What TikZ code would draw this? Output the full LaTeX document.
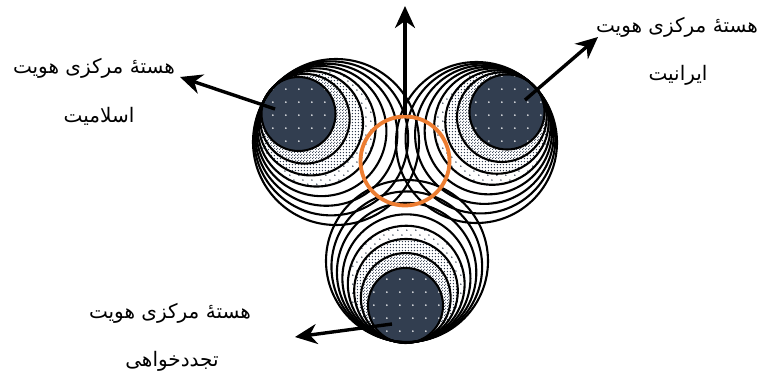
\documentclass[tikz,border=0pt]{standalone}
\usepackage{fontspec}
\usetikzlibrary{arrows.meta,calc,patterns}
\newfontfamily\fa[Script=Arabic]{DejaVu Sans}
\TeXXeTstate=1
\definecolor{navy}{HTML}{323E50}
\definecolor{orng}{HTML}{ED7D31}
\pgfdeclarepatternformonly{coredots}{\pgfpointorigin}{\pgfpoint{12.7pt}{12.7pt}}{\pgfpoint{12.7pt}{12.7pt}}{\pgfpathcircle{\pgfpoint{6pt}{6pt}}{1pt}\pgfusepath{fill}}
\pgfdeclarepatternformonly{sparsedots}{\pgfpointorigin}{\pgfpoint{9pt}{9pt}}{\pgfpoint{9pt}{9pt}}{\pgfpathcircle{\pgfpoint{2pt}{2pt}}{0.85pt}\pgfpathcircle{\pgfpoint{6.5pt}{6.5pt}}{0.85pt}\pgfusepath{fill}}
\pgfdeclarepatternformonly{densedots}{\pgfpointorigin}{\pgfpoint{3.4pt}{3.4pt}}{\pgfpoint{3.4pt}{3.4pt}}{\pgfpathcircle{\pgfpoint{1.7pt}{1.7pt}}{0.85pt}\pgfusepath{fill}}
\pgfdeclarepatternformonly{checkdots}{\pgfpointorigin}{\pgfpoint{3pt}{3pt}}{\pgfpoint{3pt}{3pt}}{\pgfpathcircle{\pgfpoint{0.75pt}{0.75pt}}{0.75pt}\pgfpathcircle{\pgfpoint{2.25pt}{2.25pt}}{0.75pt}\pgfusepath{fill}}
% #1 core centre, #2 outer centre, #3 core radius, #4 outer radius, #5 fraction, #6 options
\newcommand\ringpath[6]{\pgfmathsetmacro\myrr{#3+#5*(#4-#3)}\path[#6] ($(#1)!#5!(#2)$) circle[radius=\myrr pt];}
\newcommand\clusterfills[4]{%
  \ringpath{#1}{#2}{#3}{#4}{0.48}{preaction={fill=white},pattern=sparsedots,pattern color=navy}
  \ringpath{#1}{#2}{#3}{#4}{0.33}{preaction={fill=white},pattern=densedots,pattern color=navy}
  \ringpath{#1}{#2}{#3}{#4}{0.17}{preaction={fill=white},pattern=checkdots,pattern color=navy}
  \ringpath{#1}{#2}{#3}{#4}{0}{preaction={fill=navy},pattern=coredots,pattern color=white}}
\newcommand\clusterlines[4]{%
  \foreach \tt in {0,0.17,0.33,0.48,0.61,0.74,0.87,1}{\ringpath{#1}{#2}{#3}{#4}{\tt}{draw=black,line width=2.1pt}}}
\tikzset{
  arr/.style={line width=3.4pt,-{Stealth[length=22pt,width=20pt,inset=7pt]}},
  lbl/.style={font=\fa\fontsize{20}{24}\selectfont,inner sep=1pt,text=black}
}
\begin{document}
\begin{tikzpicture}[x=1pt,y=-1pt]
\useasboundingbox (0,0) rectangle (763,375);
% cluster centres
\coordinate (L0) at (298.5,114); \coordinate (L1) at (336,142);
\coordinate (R0) at (507,112);   \coordinate (R1) at (476.5,142.5);
\coordinate (B0) at (405.5,305.5); \coordinate (B1) at (407,261);
\clusterfills{L0}{L1}{37}{83}
\clusterfills{R0}{R1}{37.5}{80.5}
\clusterfills{B0}{B1}{37.5}{81}
\clusterlines{L0}{L1}{37}{83}
\clusterlines{R0}{R1}{37.5}{80.5}
\clusterlines{B0}{B1}{37.5}{81}
% orange circle
\node[draw=orng,line width=3.8pt,circle,minimum size=89pt,inner sep=0pt] (orange) at (405,161) {};
% arrows
\coordinate (Ls) at (275,109); \coordinate (Lt) at (180,77);
\coordinate (Rs) at (525,100); \coordinate (Rt) at (598,37);
\coordinate (Bs) at (392,324); \coordinate (Bt) at (295,337);
\coordinate (Tt) at (405,6);
\draw[arr] (Ls) -- (Lt);
\draw[arr] (Rs) -- (Rt);
\draw[arr] (Bs) -- (Bt);
\draw[arr] (orange.north) -- (Tt);
% labels
\node[lbl] (L1a) at (94,68) {\beginR هستهٔ مرکزی هویت\endR};
\node[lbl] (L1b) at (99,116) {\beginR اسلامیت\endR};
\node[lbl] (R1a) at (677,27) {\beginR هستهٔ مرکزی هویت\endR};
\node[lbl] (R1b) at (678,75) {\beginR ایرانیت\endR};
\node[lbl] (B1a) at (170,313) {\beginR هستهٔ مرکزی هویت\endR};
\node[lbl] (B1b) at (172,361) {\beginR تجددخواهی\endR};
\end{tikzpicture}
\end{document}
